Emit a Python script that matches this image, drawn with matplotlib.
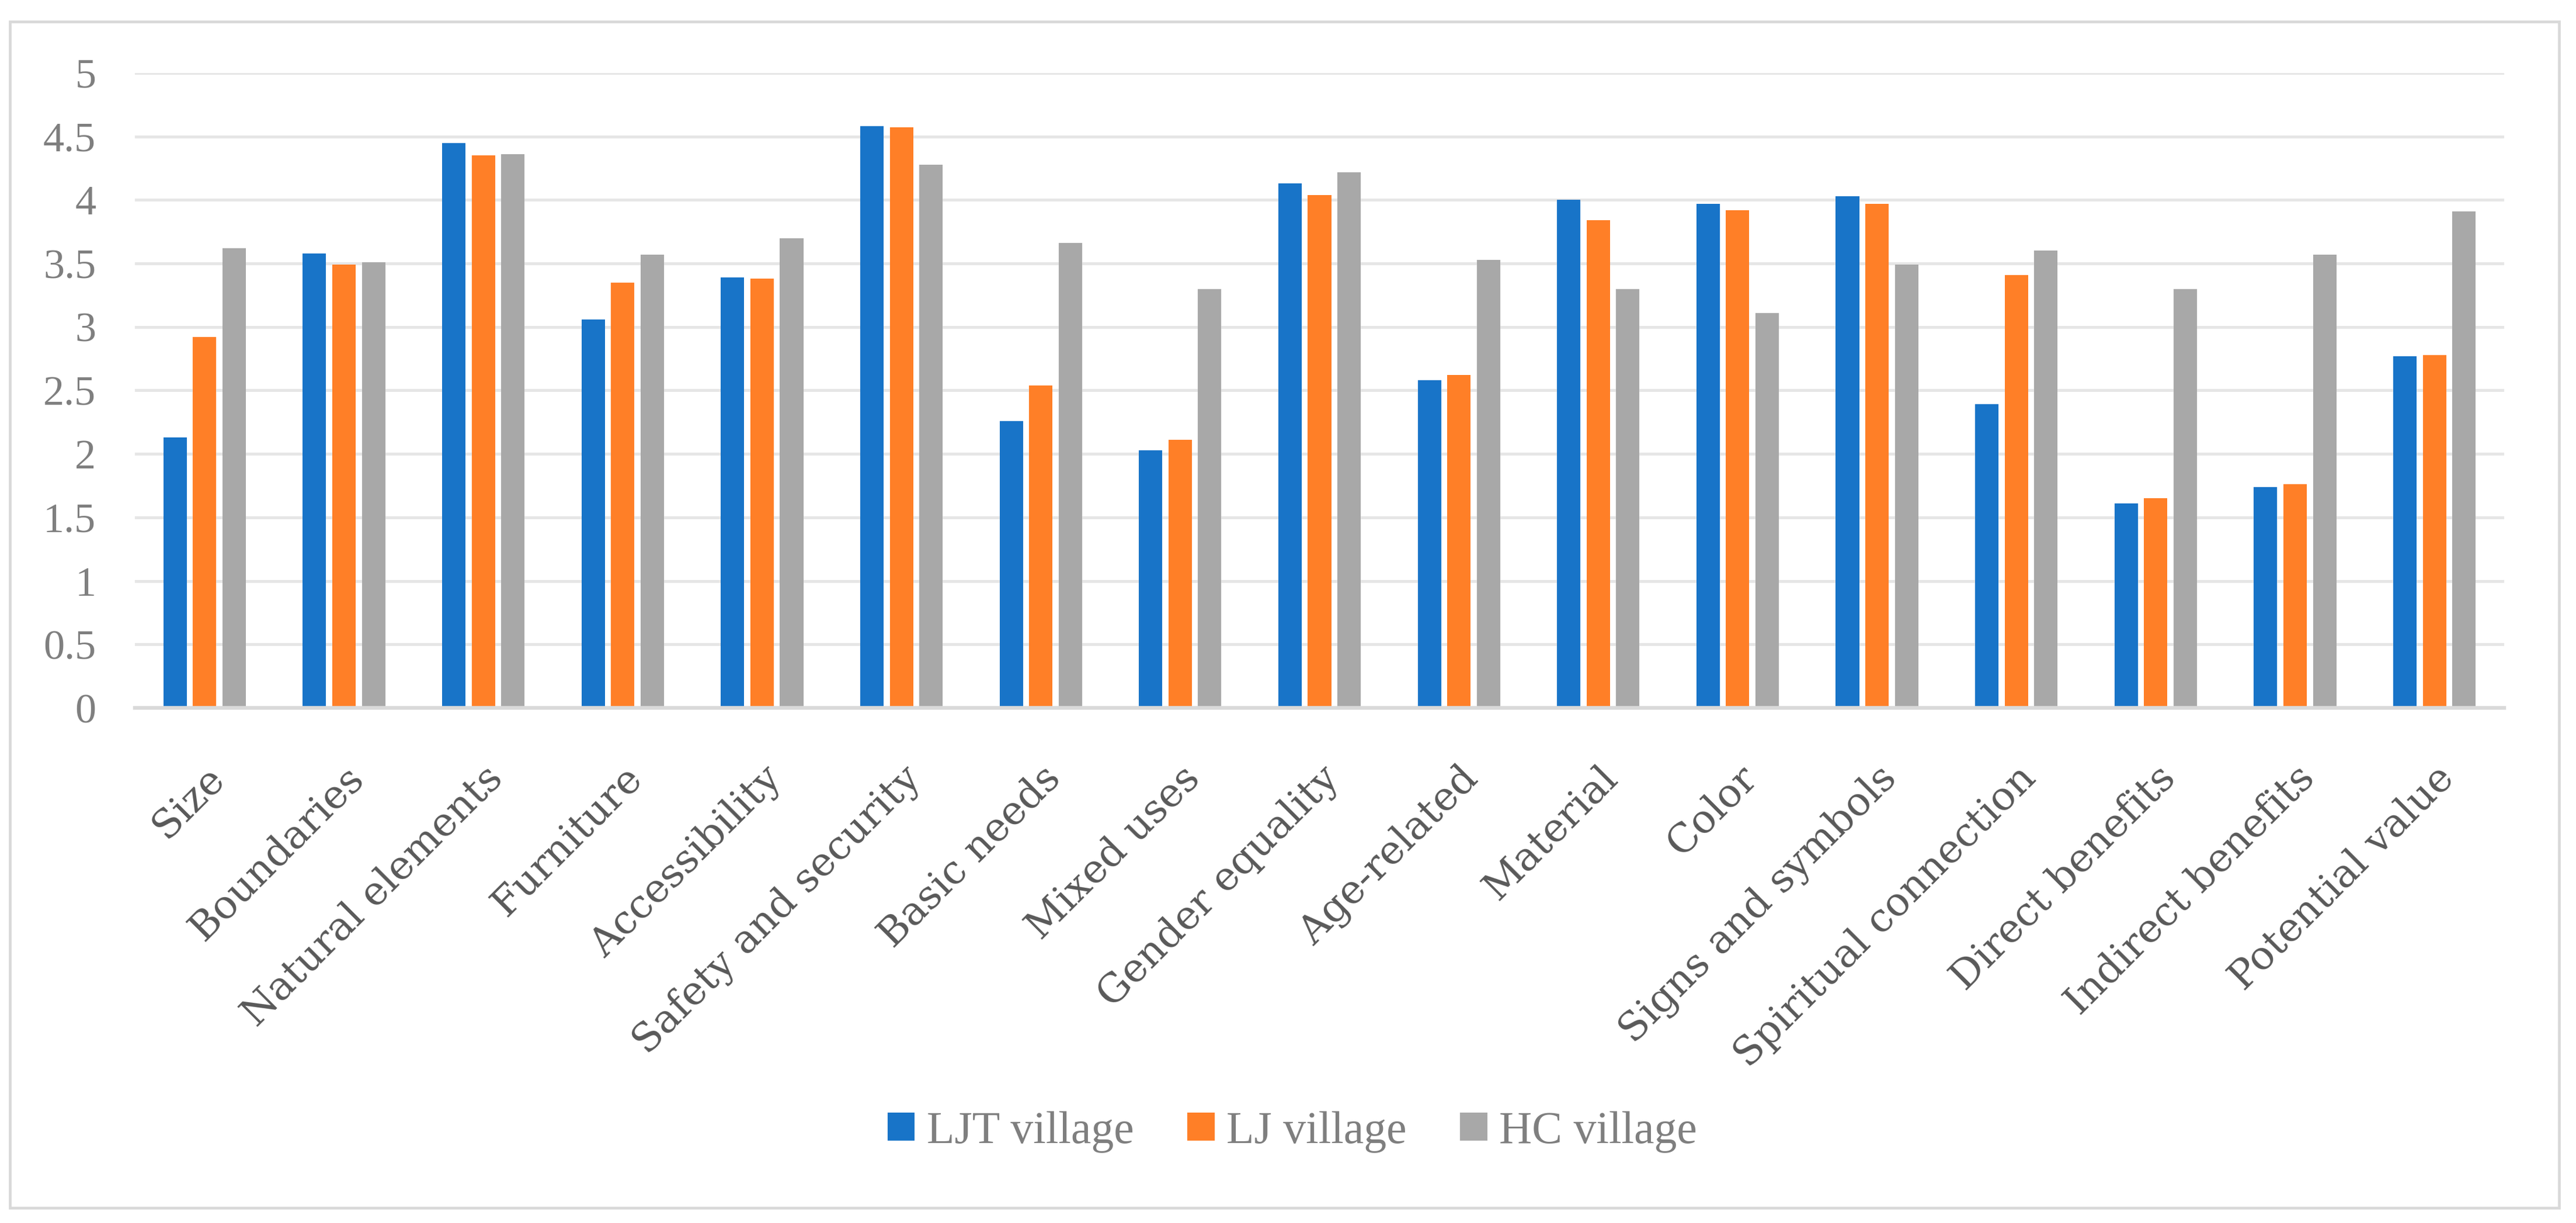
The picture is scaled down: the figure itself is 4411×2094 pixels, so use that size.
import matplotlib
matplotlib.use("Agg")
import matplotlib.pyplot as plt
import numpy as np
from matplotlib.patches import Rectangle
from matplotlib.font_manager import FontProperties

categories = ["Size", "Boundaries", "Natural elements", "Furniture", "Accessibility",
              "Safety and security", "Basic needs", "Mixed uses", "Gender equality",
              "Age-related", "Material", "Color", "Signs and symbols",
              "Spiritual connection", "Direct benefits", "Indirect benefits", "Potential value"]
ljt_village = [2.13, 3.58, 4.45, 3.06, 3.39, 4.58, 2.26, 2.03, 4.13, 2.58, 4.00, 3.97, 4.03,
               2.39, 1.61, 1.74, 2.77]
lj_village = [2.92, 3.49, 4.35, 3.35, 3.38, 4.57, 2.54, 2.11, 4.04, 2.62, 3.84, 3.92, 3.97,
              3.41, 1.65, 1.76, 2.78]
hc_village = [3.62, 3.51, 4.36, 3.57, 3.70, 4.28, 3.66, 3.30, 4.22, 3.53, 3.30, 3.11, 3.49,
              3.60, 3.30, 3.57, 3.91]
series_names = ["LJT village", "LJ village", "HC village"]
y_ticks = [0, 0.5, 1, 1.5, 2, 2.5, 3, 3.5, 4, 4.5, 5]
y_tick_labels = ["0", "0.5", "1", "1.5", "2", "2.5", "3", "3.5", "4", "4.5", "5"]

colors = ["#1874C8", "#FF7F27", "#A8A8A8"]
grid_color = "#E6E6E6"
axis_color = "#D9D9D9"

W, H = 4411, 2094
fig = plt.figure(figsize=(W / 100, H / 100), dpi=100)
fig.patches.append(Rectangle((17 / W, 1 - 2068 / H), (4382 - 17) / W, (2068 - 37) / H,
                             transform=fig.transFigure, fill=False, edgecolor=axis_color,
                             linewidth=3.4, zorder=0))

ax_left, ax_right, ax_top, ax_bottom = 231, 4288, 125, 1212
ax = fig.add_axes([ax_left / W, (H - ax_bottom) / H, (ax_right - ax_left) / W,
                   (ax_bottom - ax_top) / H])

x = np.arange(len(categories))
bw = 0.168
step = 0.212
for i, (vals, name) in enumerate(zip([ljt_village, lj_village, hc_village], series_names)):
    ax.bar(x + (i - 1) * step, vals, width=bw, color=colors[i], label=name, zorder=3)

ax.set_xlim(-0.5, len(categories) - 0.5)
ax.set_ylim(0, 5)
ax.set_yticks(y_ticks)
ax.set_yticklabels(y_tick_labels, fontfamily="Liberation Serif", fontsize=52, color="#7F7F7F")
ax.yaxis.grid(True, color=grid_color, linewidth=3.6, zorder=0)
ax.set_axisbelow(True)
for s in ["top", "right", "left"]:
    ax.spines[s].set_visible(False)
ax.spines["bottom"].set_color(axis_color)
ax.spines["bottom"].set_linewidth(4.6)
ax.spines["bottom"].set_zorder(4)
ax.tick_params(axis="y", length=0, pad=48)
ax.tick_params(axis="x", length=0, pad=63)
ax.set_xticks(x)
ax.set_xticklabels(categories, rotation=45, ha="right", va="top", rotation_mode="anchor",
                   fontfamily="DejaVu Serif", fontsize=49, color="#595959")

leg_font = FontProperties(family="Liberation Serif", size=56)
leg = fig.legend(loc="center", bbox_to_anchor=(2213 / W, 1 - 1938 / H), ncol=3, frameon=False,
                 prop=leg_font, handlelength=0.6, handleheight=0.58, handletextpad=0.26,
                 columnspacing=1.18, borderpad=0, borderaxespad=0)
for t in leg.get_texts():
    t.set_fontproperties(FontProperties(family="Liberation Serif", size=56))
    t.set_color("#7F7F7F")

fig.savefig("out.png", dpi=100)
